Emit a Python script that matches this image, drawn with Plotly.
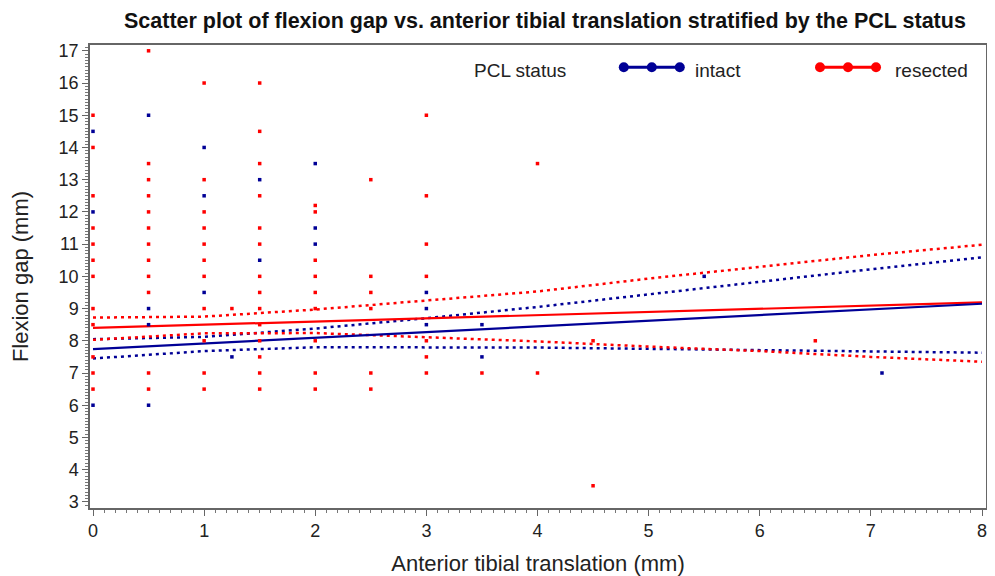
import plotly.graph_objects as go

# ---------------- data ----------------
intact_x = [0, 0, 0, 0.5, 0.5, 0.5, 0.5, 1, 1, 1, 1.25, 1.5, 1.5, 2, 2, 2,
            3, 3, 3, 3.5, 3.5, 5.5, 7.1]
intact_y = [14.5, 12, 6, 15, 9, 8.5, 6, 14, 12.5, 9.5, 7.5, 13, 10.5, 13.5, 11.5, 11,
            9.5, 9, 8.5, 8.5, 7.5, 10, 7]

resected_x = ([0] * 12 + [0.5] * 12 + [1] * 11 + [1.25] + [1.5] * 14 + [2] * 9 +
              [2.5] * 6 + [3] * 7 + [3.5] + [4] * 2 + [4.5] * 2 + [6.5])
resected_y = ([15, 14, 12.5, 11.5, 11, 10.5, 10, 9, 8.5, 7.5, 7, 6.5] +
              [17, 13.5, 13, 12.5, 12, 11.5, 11, 10.5, 10, 9.5, 7, 6.5] +
              [16, 13, 12, 11.5, 11, 10.5, 10, 9, 8, 7, 6.5] +
              [9] +
              [16, 14.5, 13.5, 12.5, 11.5, 11, 10, 9.5, 9, 8.5, 8, 7.5, 7, 6.5] +
              [12.2, 12, 10.5, 10, 9.5, 9, 8, 7, 6.5] +
              [13, 10, 9.5, 9, 7, 6.5] +
              [15, 12.5, 11, 10, 8, 7.5, 7] +
              [7] + [13.5, 7] + [8, 3.5] + [8])

# regression lines and confidence limits, read at these x positions
fit_x = [0, 8]
fit_intact = [7.74, 9.15]
fit_resected = [8.40, 9.19]

ci_x = [0, 1, 2, 3, 4, 5, 6, 7, 8]
intact_upper = [8.05, 8.12, 8.38, 8.70, 9.05, 9.45, 9.83, 10.22, 10.59]
intact_lower = [7.45, 7.68, 7.80, 7.80, 7.79, 7.75, 7.71, 7.67, 7.63]
resected_upper = [8.72, 8.75, 8.97, 9.26, 9.53, 9.93, 10.29, 10.66, 10.98]
resected_lower = [8.03, 8.23, 8.24, 8.12, 7.98, 7.82, 7.68, 7.50, 7.35]

x_ticks = [0, 1, 2, 3, 4, 5, 6, 7, 8]
y_ticks = list(range(3, 18))

BLUE = "rgb(0,0,150)"
RED = "rgb(255,0,0)"
FONT = "Liberation Sans, Arial, sans-serif"
TXT = "#222222"

fig = go.Figure()

# confidence limits (dotted)
for xs, ys, col in [(ci_x, intact_upper, BLUE), (ci_x, intact_lower, BLUE),
                    (ci_x, resected_upper, RED), (ci_x, resected_lower, RED)]:
    fig.add_trace(go.Scatter(x=xs, y=ys, mode="lines", showlegend=False,
                             line=dict(color=col, width=2.5, dash="3px,4px"),
                             hoverinfo="skip"))

# fitted lines
fig.add_trace(go.Scatter(x=fit_x, y=fit_resected, mode="lines", showlegend=False,
                         line=dict(color=RED, width=2.2)))
fig.add_trace(go.Scatter(x=fit_x, y=fit_intact, mode="lines", showlegend=False,
                         line=dict(color=BLUE, width=2.2)))

# scatter points
fig.add_trace(go.Scatter(x=resected_x, y=resected_y, mode="markers", name="resected",
                         showlegend=False,
                         marker=dict(color=RED, size=3.5, symbol="square")))
fig.add_trace(go.Scatter(x=intact_x, y=intact_y, mode="markers", name="intact",
                         showlegend=False,
                         marker=dict(color=BLUE, size=3.5, symbol="square")))

# ---------------- layout ----------------
axis_common = dict(showline=True, linecolor="#666666", linewidth=1.5, mirror=True,
                   showgrid=False, zeroline=False, ticks="outside", ticklen=6,
                   tickcolor="#666666", automargin=False, ticklabeloverflow="allow",
                   tickfont=dict(family=FONT, size=18, color=TXT),
                   minor=dict(dtick=0.1, ticks="outside", ticklen=3, tickcolor="#777777"))

fig.update_xaxes(range=[-0.027, 8.036], tickmode="array", tickvals=x_ticks,
                 title=dict(text="Anterior tibial translation (mm)",
                            font=dict(family=FONT, size=22, color=TXT), standoff=16),
                 **axis_common)
fig.update_yaxes(range=[2.81, 17.18], tickmode="array", tickvals=y_ticks,
                 title=dict(text="Flexion gap (mm)",
                            font=dict(family=FONT, size=22, color=TXT), standoff=28),
                 **axis_common)

# the page adds an 8px body margin, so the figure is sized to fit the window
fig.update_layout(
    width=987, height=568,
    margin=dict(l=82, r=9, t=37, b=68),
    plot_bgcolor="white", paper_bgcolor="white",
    title=dict(text="<b>Scatter plot of flexion gap vs. anterior tibial translation stratified by the PCL status</b>",
               x=0.544, xanchor="center", y=1 - 12 / 568, yanchor="middle",
               font=dict(family=FONT, size=21.5, color="#111111")),
    showlegend=False,
)

# legend drawn manually (SAS style: line with three markers)
leg_y = 0.946
for xp, txt in [(0.426, "PCL status"), (0.673, "intact"), (0.896, "resected")]:
    fig.add_annotation(x=xp, y=leg_y, xref="paper", yref="paper", text=txt,
                       showarrow=False, xanchor="left", yanchor="middle",
                       font=dict(family=FONT, size=19, color=TXT))

for cx, col in [(0.627, BLUE), (0.846, RED)]:
    fig.add_shape(type="line", xref="paper", yref="paper", xsizemode="pixel",
                  ysizemode="pixel", xanchor=cx, yanchor=leg_y + 0.006,
                  x0=-29, x1=29, y0=0, y1=0, line=dict(color=col, width=3))
    for off in (-28, 0, 28):
        fig.add_shape(type="circle", xref="paper", yref="paper", xsizemode="pixel",
                      ysizemode="pixel", xanchor=cx, yanchor=leg_y + 0.006,
                      x0=off - 5, x1=off + 5, y0=-5, y1=5,
                      fillcolor=col, line=dict(color=col, width=0))

fig.write_html("out.html")
